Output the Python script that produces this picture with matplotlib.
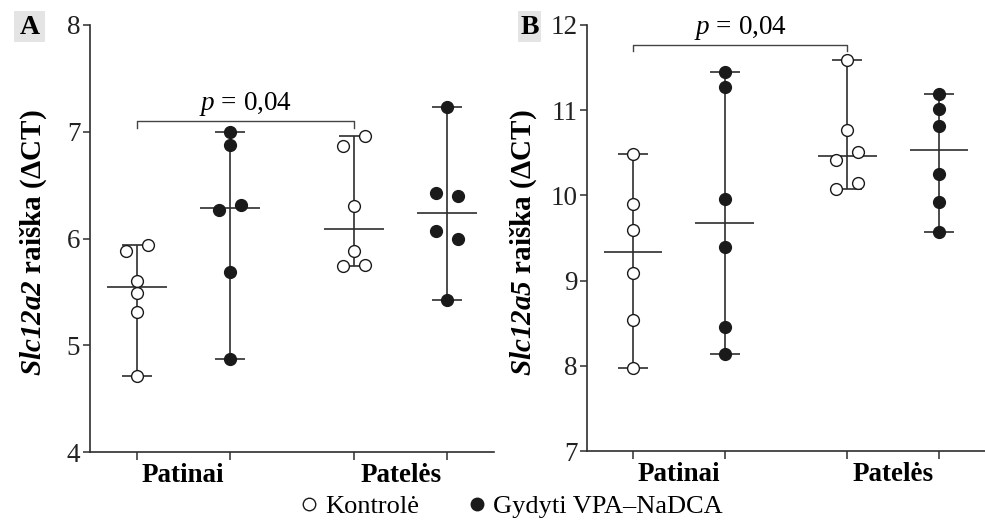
import matplotlib
matplotlib.use("Agg")
import matplotlib.pyplot as plt
from matplotlib.lines import Line2D
from matplotlib.patches import Rectangle
import numpy as np

plt.rcParams['font.family'] = ['Liberation Serif', 'DejaVu Serif']
plt.rcParams['mathtext.fontset'] = 'custom'
plt.rcParams['mathtext.rm'] = 'Liberation Serif'
plt.rcParams['mathtext.it'] = 'Liberation Serif:italic'
plt.rcParams['mathtext.bf'] = 'Liberation Serif:bold'
plt.rcParams['mathtext.bfit'] = 'Liberation Serif:italic:bold'

# group order: males control, males treated, females control, females treated
groups = ["Patinai kontrolė", "Patinai gydyti", "Patelės kontrolė", "Patelės gydyti"]
sex_labels = ["Patinai", "Patelės"]
legend_labels = ["Kontrolė", "Gydyti VPA–NaDCA"]

# Slc12a2 expression (dCT)
slc12a2_m_ctrl = [5.88, 5.94, 5.60, 5.49, 5.31, 4.71]
slc12a2_m_trt = [7.00, 6.88, 6.27, 6.31, 5.69, 4.87]
slc12a2_f_ctrl = [6.87, 6.96, 6.30, 5.88, 5.74, 5.75]
slc12a2_f_trt = [7.23, 6.43, 6.40, 6.07, 6.00, 5.42]

# Slc12a5 expression (dCT)
slc12a5_m_ctrl = [10.49, 9.90, 9.59, 9.09, 8.54, 7.97]
slc12a5_m_trt = [11.45, 11.27, 9.96, 9.40, 8.45, 8.14]
slc12a5_f_ctrl = [11.59, 10.77, 10.42, 10.51, 10.08, 10.15]
slc12a5_f_trt = [11.19, 11.01, 10.82, 10.25, 9.92, 9.57]

p_text = "$p$ = 0,04"

LINE = "#2e2e2e"
pos = np.array([0, 1, 2.33, 3.33])


def dodge(vals, thresh, off=0.118):
    # push close pairs of points apart sideways
    vals = np.asarray(vals)
    order = np.argsort(vals, kind="stable")
    dx = np.zeros(len(vals))
    i = 0
    while i < len(order) - 1:
        a, b = order[i], order[i + 1]
        if vals[b] - vals[a] < thresh:
            first, second = min(a, b), max(a, b)
            dx[first] = -off
            dx[second] = off
            i += 2
        else:
            i += 1
    return dx


def panel(ax, data, ylim, thresh, gene, bracket_y, label_x):
    for k, vals in enumerate(data):
        vals = np.asarray(vals)
        x0 = pos[k]
        filled = k % 2 == 1
        lo, hi, med = vals.min(), vals.max(), np.median(vals)
        ax.vlines(x0, lo, hi, color=LINE, lw=1.2, zorder=2)
        ax.hlines([lo, hi], x0 - 0.16, x0 + 0.16, color=LINE, lw=1.2, zorder=2)
        ax.hlines(med, x0 - 0.32, x0 + 0.32, color=LINE, lw=1.2, zorder=2)
        ax.plot(x0 + dodge(vals, thresh), vals, "o", ms=8.5, mew=1.0,
                mec="#1a1a1a", mfc="#1a1a1a" if filled else "white",
                ls="none", zorder=3)

    ax.set_xlim(-0.5, 3.83)
    ax.set_ylim(*ylim)
    ax.set_yticks(np.arange(ylim[0], ylim[1] + 1))
    ax.set_xticks(pos)
    ax.set_xticklabels([])
    ax.set_xticks([(pos[0] + pos[1]) / 2, (pos[2] + pos[3]) / 2], minor=True)
    ax.set_xticklabels(sex_labels, minor=True, fontweight="bold", fontsize=19.5)
    ax.tick_params(axis="x", which="minor", length=0, pad=8)
    ax.tick_params(axis="x", which="major", length=6, width=1.1, color=LINE)
    ax.tick_params(axis="y", length=5, width=1.1, color=LINE, labelsize=19.5,
                   pad=2, labelcolor="#222222")
    for s in ["top", "right"]:
        ax.spines[s].set_visible(False)
    for s in ["left", "bottom"]:
        ax.spines[s].set_color(LINE)
        ax.spines[s].set_linewidth(1.2)

    ax.set_ylabel(r"$\mathbfit{" + gene + "}$ raiška (ΔCT)",
                  fontsize=21, fontweight="bold")
    ax.yaxis.set_label_coords(label_x, 0.49)

    # significance bracket between the two control groups
    h = (ylim[1] - ylim[0]) * 0.016
    ax.plot([pos[0], pos[0], pos[2], pos[2]],
            [bracket_y - h, bracket_y, bracket_y, bracket_y - h],
            color="#444444", lw=1.0, clip_on=False)
    ax.text((pos[0] + pos[2]) / 2, bracket_y + h * 1.6, p_text,
            ha="center", va="baseline", fontsize=19.5, clip_on=False)


fig = plt.figure(figsize=(9.85, 5.22), dpi=100)
ax1 = fig.add_axes([90 / 985, 70 / 522, 404 / 985, 427 / 522])
ax2 = fig.add_axes([587 / 985, 71 / 522, 398 / 985, 426 / 522])

panel(ax1, [slc12a2_m_ctrl, slc12a2_m_trt, slc12a2_f_ctrl, slc12a2_f_trt],
      (4, 8), 0.098, "Slc12a2", 7.10, -0.102)
panel(ax2, [slc12a5_m_ctrl, slc12a5_m_trt, slc12a5_f_ctrl, slc12a5_f_trt],
      (7, 12), 0.123, "Slc12a5", 11.77, -0.121)

# panel letters on grey tiles
for letter, x, w in [("A", 14, 31), ("B", 518, 23)]:
    fig.patches.append(Rectangle((x / 985, 1 - 42 / 522), w / 985, 31 / 522,
                                 transform=fig.transFigure, facecolor="#e4e4e4",
                                 edgecolor="none"))
    fig.text((x + w / 2) / 985, 1 - 27 / 522, letter, ha="center", va="center",
             fontsize=20, fontweight="bold")

handles = [Line2D([], [], marker="o", ls="none", ms=9, mew=1.0, mec="#1a1a1a", mfc="white"),
           Line2D([], [], marker="o", ls="none", ms=9, mew=1.0, mec="#1a1a1a", mfc="#1a1a1a")]
fig.legend(handles, legend_labels, loc="center", bbox_to_anchor=(0.52, 1 - 506 / 522),
           ncol=2, frameon=False, fontsize=19, handlelength=0.6, handletextpad=0.3,
           columnspacing=1.9, borderpad=0)

fig.savefig("out.png", dpi=100)
